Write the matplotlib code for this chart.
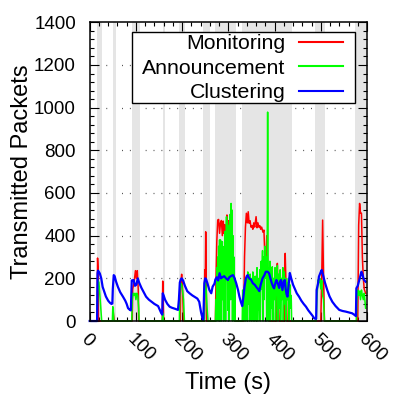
import matplotlib
matplotlib.use("Agg")
import matplotlib.pyplot as plt
from matplotlib.lines import Line2D
from matplotlib.patches import Rectangle
from matplotlib.ticker import MultipleLocator

plt.rcParams['font.family'] = ['Liberation Sans', 'DejaVu Sans']

# gray background bands (start, end) in seconds
band_starts = [15.8, 49.6, 90.6, 157.6, 192.8, 246, 272, 330, 488, 575]
band_ends = [27.6, 56.1, 107.9, 162.6, 206.5, 260.5, 316.5, 437.5, 508.7, 597]

# Clustering (blue)
clu_t = [0, 15, 16, 17, 18, 20, 22, 25, 28, 31, 35, 40, 44, 47, 49, 50, 52, 54, 57, 61, 66, 72, 77, 80,
         83, 87, 89, 90, 91, 95, 98, 101, 104, 107, 112, 117, 122, 128, 134, 140, 144, 148, 152, 155, 157,
         158, 160, 163, 168, 173, 178, 185, 191, 193, 195, 197, 199, 202, 206, 211, 216, 222, 228, 233,
         237, 241, 245, 246, 248, 250, 252, 255, 259, 263, 266, 270, 272, 275, 278, 281, 284, 287, 291,
         295, 299, 302, 306, 310, 313, 317, 321, 324, 327, 330, 333, 335, 338, 340, 342, 345, 349, 353,
         357, 360, 364, 367, 370, 374, 378, 381, 385, 388, 391, 394, 397, 399, 402, 404, 407, 410, 412,
         414, 416, 417, 420, 422, 424, 426, 428, 430, 433, 436, 440, 444, 448, 453, 458, 463, 468, 473,
         478, 482, 486, 490, 491, 494, 496, 500, 502, 505, 509, 514, 519, 525, 532, 540, 547, 554, 561,
         568, 572, 576, 577, 580, 583, 586, 588, 590, 593, 597]
clu_v = [0, 0, 0, 225, 236, 230, 222, 200, 160, 140, 115, 95, 85, 80, 82, 150, 215, 210, 185, 160, 135, 114, 95, 80,
         60, 52, 50, 120, 190, 192, 165, 170, 200, 180, 155, 135, 114, 100, 90, 80, 75, 70, 50, 36, 30,
         130, 120, 100, 80, 67, 62, 57, 52, 100, 180, 195, 200, 190, 165, 140, 130, 120, 112, 105,
         90, 40, 5, 10, 177, 200, 195, 175, 145, 130, 161, 175, 195, 205, 190, 224, 200, 205, 210,
         200, 192, 205, 211, 215, 203, 177, 145, 114, 90, 70, 120, 161, 200, 211, 215, 200, 194, 177,
         170, 161, 150, 140, 170, 200, 215, 231, 231, 224, 200, 177, 160, 153, 180, 192, 175, 155, 185,
         192, 160, 145, 185, 192, 150, 125, 114, 160, 225, 200, 170, 150, 130, 114, 95, 80, 67, 50,
         36, 25, 12, 10, 145, 175, 208, 230, 239, 215, 180, 145, 115, 90, 70, 52, 47, 44, 40,
         36, 30, 23, 153, 165, 190, 215, 231, 220, 194, 184]

# Monitoring (red)
mon_t = [0, 16, 17, 18, 19, 50, 51, 52, 53, 92, 93, 96, 99, 101, 103, 105, 106, 157, 158, 160,
         196, 197, 199, 201, 203, 248, 249, 250, 251, 252, 253, 272, 273, 275, 277, 279, 281, 283,
         285, 287, 289, 290, 292, 294, 296, 297, 299, 301, 303, 305, 307, 309, 311, 313, 315,
         333, 335, 337, 339, 341, 343, 345, 347, 349, 351, 353, 355, 357, 360, 362, 364, 366, 368,
         370, 372, 375, 377, 379, 381, 383, 385, 387, 389, 404, 406, 408, 410, 421, 423, 425, 427,
         500, 502, 504, 506, 508, 580, 582, 584, 586, 588, 590, 592, 594, 597]
mon_v = [0, 0, 295, 250, 0, 0, 40, 20, 0, 0, 150, 180, 236, 200, 236, 150, 0, 0, 187, 0,
         0, 180, 219, 150, 0, 0, 240, 150, 418, 200, 0, 0, 161, 372, 473, 476, 411, 460,
         471, 400, 468, 411, 452, 380, 457, 497, 430, 470, 330, 400, 350, 300, 250, 180, 0,
         0, 300, 440, 505, 460, 512, 458, 470, 440, 447, 430, 460, 440, 489, 437, 460, 440, 447,
         430, 440, 416, 426, 300, 200, 400, 250, 150, 0, 0, 270, 100, 0, 0, 317, 150, 0,
         0, 200, 473, 200, 0, 0, 450, 551, 505, 505, 300, 200, 150, 130]

# Announcement (green)
ann_t = [0, 16, 17, 18, 20, 22, 24, 26, 49, 50, 51, 52, 91, 92, 94, 96, 98, 100, 102, 104, 106, 107,
         157, 158, 159, 194, 195, 197, 199, 201, 203, 205, 248, 249, 250, 252, 254, 256,
         272, 273, 274, 275, 276, 277, 278, 279, 280, 281, 282, 283, 284, 285, 286, 287, 288, 289,
         290, 291, 292, 293, 294, 296, 297, 298, 299, 300, 301, 302, 303, 304, 305, 306, 307, 308,
         309, 310, 311, 312, 313, 314, 315,
         330, 331, 332, 333, 334, 336, 337, 338, 340, 341, 342, 343, 345, 346, 347, 348, 350, 351,
         352, 353, 354, 356, 357, 358, 360, 361, 362, 363, 364, 366, 367, 368, 369, 371, 372, 374,
         375, 376, 377, 379, 380, 382, 383, 384, 385, 386, 387, 388, 389, 390, 391, 393, 394, 395,
         396, 398, 399, 401, 402, 404, 405, 406, 407, 409, 410, 412, 413, 415, 416, 418, 419, 421,
         422, 424, 425, 427, 428, 430, 431, 433, 434, 436, 437,
         490, 492, 494, 496, 498, 500, 502, 504, 506, 508,
         577, 578, 580, 582, 584, 586, 588, 590, 592, 594, 596, 597]
ann_v = [0, 0, 130, 190, 180, 120, 60, 0, 0, 67, 60, 0, 0, 100, 130, 120, 130, 100, 130, 120, 60, 0,
         0, 37, 0, 0, 150, 177, 170, 140, 100, 0, 0, 150, 192, 150, 60, 0,
         0, 100, 0, 250, 50, 300, 0, 350, 120, 380, 0, 380, 200, 0, 300, 372, 100, 250,
         0, 350, 150, 420, 0, 489, 200, 468, 50, 400, 0, 450, 150, 500, 100, 551, 200, 520,
         0, 400, 100, 300, 0, 200, 0,
         0, 145, 50, 145, 0, 192, 0, 150, 200, 0, 230, 80, 180, 0, 220, 100, 0, 200,
         60, 230, 0, 180, 0, 210, 100, 0, 250, 120, 0, 200, 50, 240, 0, 280, 150, 330,
         0, 300, 100, 350, 200, 300, 0, 250, 979, 300, 0, 250, 100, 280, 0, 230, 60, 254,
         0, 200, 100, 250, 0, 230, 120, 260, 0, 220, 60, 240, 0, 200, 100, 250, 0, 230,
         80, 200, 0, 180, 100, 200, 0, 170, 60, 120, 0,
         0, 120, 192, 180, 200, 150, 190, 120, 100, 0,
         0, 100, 145, 120, 140, 100, 145, 120, 100, 130, 80, 60]

xticks = [0, 100, 200, 300, 400, 500, 600]
yticks = [0, 200, 400, 600, 800, 1000, 1200, 1400]

fig = plt.figure(figsize=(4, 4), dpi=100)
ax = fig.add_axes([89.7 / 400, 1 - 321 / 400, (367 - 89.7) / 400, (321 - 22.3) / 400])

for s, e in zip(band_starts, band_ends):
    ax.axvspan(s, e, color='#e5e5e5', lw=0, zorder=1)

for y in yticks[1:-1]:
    ax.axhline(y, color='#555555', lw=0.9, ls=(0, (0.8, 5.5)), zorder=0.5)

ax.plot(mon_t, mon_v, color='#ff0000', lw=1.1, zorder=3, clip_on=False)
ax.plot(ann_t, ann_v, color='#00ff00', lw=1.1, zorder=3.1, clip_on=False)
ax.plot(clu_t, clu_v, color='#0000ff', lw=1.6, zorder=3.2, clip_on=False)

ax.set_xlim(0, 600)
ax.set_ylim(0, 1400)
ax.set_xticks(xticks)
ax.set_yticks(yticks)
ax.xaxis.set_minor_locator(MultipleLocator(20))
ax.yaxis.set_minor_locator(MultipleLocator(40))
ax.tick_params(which='both', direction='in', top=True, right=True, color='black')
ax.tick_params(which='major', length=6.3, width=0.8)
ax.tick_params(which='minor', length=3, width=0.8)
ax.tick_params(axis='y', labelsize=13.5, pad=9.9)
ax.tick_params(axis='x', labelsize=13.5, pad=7)
for lab in ax.get_xticklabels():
    lab.set_rotation(-45)
    lab.set_ha('left')
    lab.set_va('top')
    lab.set_rotation_mode('anchor')
for sp in ax.spines.values():
    sp.set_linewidth(1.1)
    sp.set_zorder(4)

ax.set_xlabel('Time (s)', fontsize=17)
ax.set_ylabel('Transmitted Packets', fontsize=17)
ax.xaxis.set_label_coords(0.5, -0.172)
ax.yaxis.set_label_coords(-0.205, 0.5)

# legend box
ax.add_artist(Rectangle((132.3 / 400, 1 - 102.7 / 400), (355.3 - 132.3) / 400, (102.7 - 31.7) / 400,
                        transform=fig.transFigure, facecolor='white', edgecolor='black', lw=1.0,
                        zorder=5, clip_on=False))

handles = [Line2D([], [], color='#ff0000', lw=1.5),
           Line2D([], [], color='#00ff00', lw=1.5),
           Line2D([], [], color='#0000ff', lw=1.5)]
leg = ax.legend(handles, ['Monitoring', 'Announcement', 'Clustering'],
                loc='upper right', bbox_to_anchor=(343 / 400, 1 - 34 / 400),
                bbox_transform=fig.transFigure, frameon=False, markerfirst=False,
                fontsize=15.3, handlelength=2.08, handletextpad=0.62,
                labelspacing=0.27, borderpad=0.0, borderaxespad=0.0)
leg.set_zorder(6)
for t in leg.get_texts():
    t.set_ha('right')

fig.savefig('out.png', dpi=100)
